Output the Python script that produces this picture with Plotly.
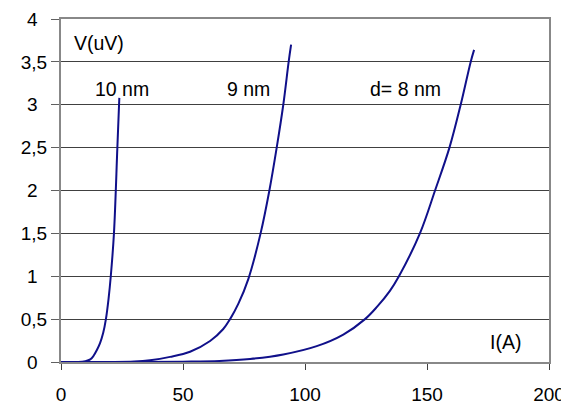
import plotly.graph_objects as go

# Data
c10_I = [0, 7, 10, 12, 13.3, 14.7, 16.0, 17.3, 18.4, 19.5, 20.4, 21.7, 23.1, 23.9]
c10_V = [0, 0, 0.01, 0.03, 0.07, 0.14, 0.22, 0.34, 0.5, 0.74, 1.0, 1.5, 2.5, 3.08]

c9_I = [0, 20, 30, 36.5, 44.7, 52.9, 61.1, 66.5, 69.3, 72.7, 76.8, 81.8, 85.4, 88.4, 91.1, 93.3, 94.3]
c9_V = [0, 0, 0.005, 0.02, 0.06, 0.12, 0.245, 0.385, 0.5, 0.68, 0.97, 1.5, 2.0, 2.5, 3.0, 3.5, 3.70]

c8_I = [0, 30, 50, 65, 77.5, 91.1, 104.8, 115.7, 124.6, 129.4, 134.8, 138.5, 147.1, 153.3, 159.2, 163.8, 167.9, 169.3]
c8_V = [0, 0, 0.004, 0.012, 0.035, 0.088, 0.185, 0.32, 0.5, 0.64, 0.83, 1.0, 1.5, 2.0, 2.5, 3.0, 3.5, 3.64]

x_ticks = [0, 50, 100, 150, 200]
y_ticks = [0, 0.5, 1, 1.5, 2, 2.5, 3, 3.5, 4]
y_tick_labels = ["0\u2002", "0,5", "1\u2002", "1,5", "2\u2002", "2,5", "3\u2002", "3,5", "4\u2002"]

labels = ["V(uV)", "10 nm", "9 nm", "d= 8 nm", "I(A)"]
label_x = [15.6, 24.8, 77.0, 141.0, 182.0]
label_y = [3.72, 3.18, 3.18, 3.18, 0.233]

FONT = "Arial, 'Liberation Sans', sans-serif"
LINE = "#10108a"

fig = go.Figure()
for xs, ys in [(c10_I, c10_V), (c9_I, c9_V), (c8_I, c8_V)]:
    fig.add_trace(go.Scatter(x=xs, y=ys, mode="lines",
                             line=dict(color=LINE, width=2, shape="spline", smoothing=1.0),
                             showlegend=False, hoverinfo="skip"))

for t, x, y in zip(labels, label_x, label_y):
    fig.add_annotation(x=x, y=y, xref="x", yref="y", text=t, showarrow=False,
                       font=dict(family=FONT, size=19.5, color="black"))

# the page body has an 8px margin, so the figure is sized/offset to compensate
fig.update_layout(
    width=561, height=398,
    margin=dict(l=53, r=20, t=11, b=44),
    paper_bgcolor="white", plot_bgcolor="white",
    font=dict(family=FONT, size=19, color="black"),
    xaxis=dict(range=[0, 200], tickvals=x_ticks, ticks="outside", ticklen=6,
               tickcolor="#404040", tickwidth=1, showgrid=False, zeroline=False,
               showline=True, linecolor="#888888", linewidth=2, mirror=True,
               ticklabelstandoff=8, automargin=False),
    yaxis=dict(range=[0, 4], tickvals=y_ticks, ticktext=y_tick_labels, ticks="outside",
               ticklen=8, tickcolor="#606060", tickwidth=1, showgrid=True,
               gridcolor="#404040", gridwidth=1, zeroline=True, zerolinecolor="#404040",
               zerolinewidth=2, showline=True, linecolor="#888888", linewidth=2, mirror=True,
               ticklabelstandoff=0, automargin=False),
)

fig.write_html("out.html")
